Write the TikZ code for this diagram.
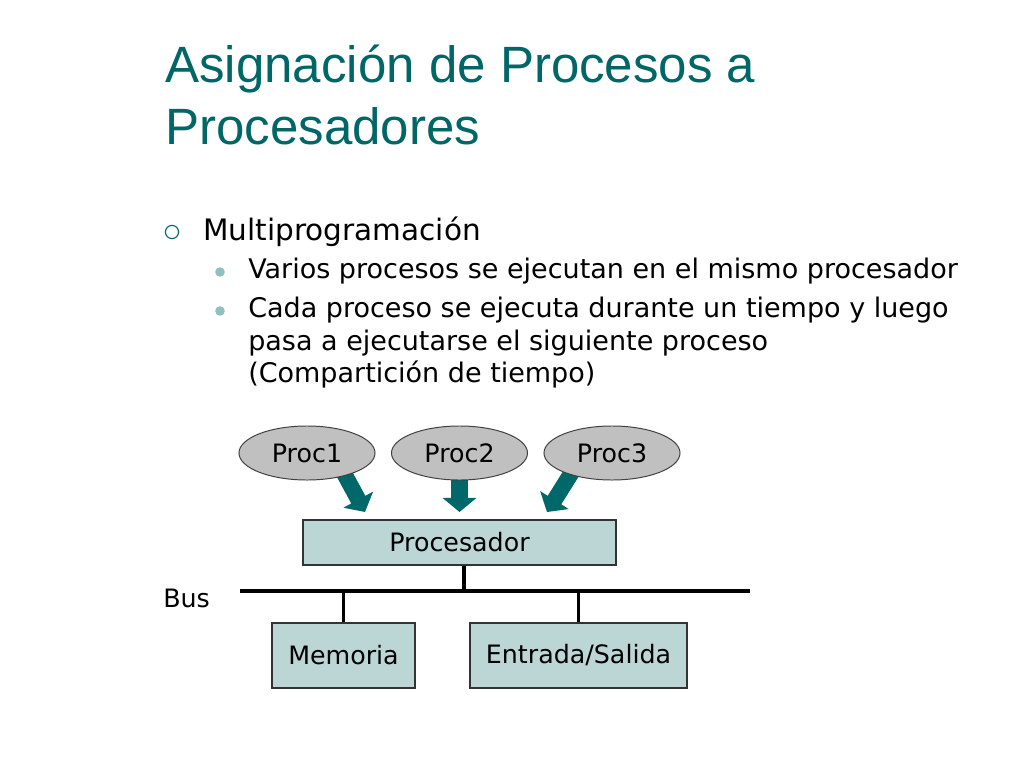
\documentclass[tikz,border=0pt]{standalone}
\usepackage{fontspec}
\setmainfont{DejaVu Sans}
\newfontfamily\titlefont{Liberation Sans}
\usetikzlibrary{shapes.geometric,arrows.meta,backgrounds}
\definecolor{tealtitle}{RGB}{0,102,102}
\definecolor{tealarrow}{RGB}{0,104,104}
\definecolor{dotcol}{RGB}{145,192,192}
\definecolor{ellfill}{RGB}{192,192,192}
\definecolor{boxfill}{RGB}{188,214,214}
\tikzset{
  titletext/.style={anchor=base west, inner sep=0pt, text=tealtitle, font=\titlefont\fontsize{36.3}{44}\selectfont},
  lvlone/.style={anchor=base west, inner sep=0pt, font=\fontsize{21}{25}\selectfont},
  lvltwo/.style={anchor=base west, inner sep=0pt, font=\fontsize{19.2}{23}\selectfont},
  ringbullet/.style={circle, draw=tealtitle, line width=0.8pt, minimum size=0.33cm, inner sep=0pt},
  dotbullet/.style={circle, fill=dotcol, minimum size=0.24cm, inner sep=0pt},
  procell/.style={ellipse, draw=black!75, fill=ellfill, line width=0.7pt, minimum width=3.4cm, minimum height=1.35cm, inner sep=0pt, font=\fontsize{18}{21}\selectfont},
  unitbox/.style={rectangle, draw=black!80, fill=boxfill, line width=0.8pt, inner sep=0pt, font=\fontsize{18}{21}\selectfont},
  bigarrow/.style={draw=tealarrow, -{Triangle[width=23.5pt,length=10pt]}},
  busline/.style={line width=2.6pt, black}
}
\begin{document}
\begin{tikzpicture}[x=0.025cm,y=-0.025cm]
\path[use as bounding box] (0,0) rectangle (1024,768);
% title
\node[titletext] (title1) at (165,83) {Asignación de Procesos a};
\node[titletext] (title2) at (165,145) {Procesadores};
% bullets
\node[ringbullet] (b0) at (172,232) {};
\node[lvlone] (l1) at (203,240) {Multiprogramación};
\node[dotbullet] (b1) at (220,272) {};
\node[lvltwo] (l2a) at (248,278) {Varios procesos se ejecutan en el mismo procesador};
\node[dotbullet] (b2) at (220,311) {};
\node[lvltwo] (l2b) at (248,317) {Cada proceso se ejecuta durante un tiempo y luego};
\node[lvltwo] (l2c) at (248,350) {pasa a ejecutarse el siguiente proceso};
\node[lvltwo] (l2d) at (248,382) {(Compartición de tiempo)};
% processes
\node[procell] (p1) at (307,453) {Proc1};
\node[procell] (p2) at (459.5,453) {Proc2};
\node[procell] (p3) at (612,453) {Proc3};
% units
\node[unitbox, minimum width=7.825cm, minimum height=1.125cm] (proc) at (459.5,542.5) {Procesador};
\node[unitbox, minimum width=3.575cm, minimum height=1.625cm] (mem) at (343.5,655.5) {Memoria};
\node[unitbox, minimum width=5.425cm, minimum height=1.625cm] (io) at (578.5,655.5) {Entrada/Salida};
% bus
\coordinate (busL) at (240,591);
\coordinate (busR) at (750,591);
\node[anchor=base west, inner sep=0pt, font=\fontsize{18}{21}\selectfont] (buslabel) at (163,607) {Bus};
\draw[busline] (busL) -- (busR);
\draw[busline] ([xshift=0.12cm]proc.south) -- ([xshift=0.12cm]proc.south |- busL);
\draw[busline] (mem.north) -- (mem.north |- busL);
\draw[busline] (io.north) -- (io.north |- busL);
% arrows
\coordinate (tip1) at (365,512);
\coordinate (tip2) at (459.5,512);
\coordinate (tip3) at (547,512);
\begin{scope}[on background layer]
\fill[white] (0,0) rectangle (1024,768);
\draw[bigarrow, line width=11.4pt] ([xshift=0.65cm]p1.center) -- (tip1);
\draw[bigarrow, line width=12.5pt] ([yshift=-0.4cm]p2.center) -- (tip2);
\draw[bigarrow, line width=11.4pt] ([xshift=-0.7cm]p3.center) -- (tip3);
\end{scope}
\end{tikzpicture}
\end{document}
